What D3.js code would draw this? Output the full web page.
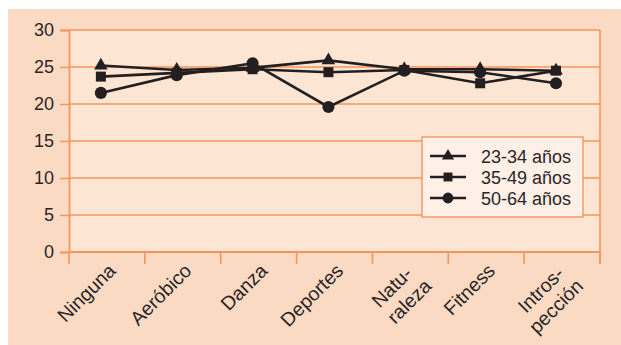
<!DOCTYPE html>
<html>
<head>
<meta charset="utf-8">
<script src="https://cdn.jsdelivr.net/npm/d3@7"></script>
<style>
  html, body { margin: 0; padding: 0; background: #ffffff; }
  svg { display: block; }
  text { font-family: "Liberation Sans", Arial, sans-serif; fill: #2b2526; }
</style>
</head>
<body>
<svg id="chart" width="621" height="345"></svg>
<script>
// Activity categories (multi-line labels split on "\n")
const categories = ["Ninguna", "Aeróbico", "Danza", "Deportes", "Natu-\nraleza", "Fitness", "Intros-\npección"];
const yTicks = [0, 5, 10, 15, 20, 25, 30];
const seriesNames = ["23-34 años", "35-49 años", "50-64 años"];
const values2334 = [25.2, 24.6, 24.9, 25.9, 24.7, 24.7, 24.5];
const values3549 = [23.7, 24.2, 24.7, 24.3, 24.6, 22.8, 24.5];
const values5064 = [21.5, 23.9, 25.5, 19.6, 24.5, 24.3, 22.8];

const series = [
  { name: seriesNames[0], values: values2334, symbol: d3.symbolTriangle, size: 80 },
  { name: seriesNames[1], values: values3549, symbol: d3.symbolSquare, size: 100 },
  { name: seriesNames[2], values: values5064, symbol: d3.symbolCircle, size: 115 }
];

const svg = d3.select("#chart");
const W = 621, H = 345;
const plot = { left: 69, right: 600, top: 30, bottom: 252 };
const grid = "#f5955d";
const ink = "#231f20";
const fontSize = 18;
const catFontSize = 19.5;

// outer panel
svg.append("rect").attr("x", 8).attr("y", 9).attr("width", W - 8).attr("height", H - 9)
  .attr("fill", "#fbdac4");
// plot area
svg.append("rect").attr("x", plot.left).attr("y", plot.top)
  .attr("width", plot.right - plot.left).attr("height", plot.bottom - plot.top)
  .attr("fill", "#fde5d4");

const x = d3.scaleBand().domain(categories).range([plot.left, plot.right]).padding(0);
const xPos = c => x(c) + x.bandwidth() * 0.42;
const y = d3.scaleLinear().domain([0, 30]).range([plot.bottom, plot.top]);

// horizontal gridlines
svg.append("g").selectAll("line").data(yTicks).join("line")
  .attr("x1", plot.left).attr("x2", plot.right)
  .attr("y1", d => y(d)).attr("y2", d => y(d))
  .attr("stroke", grid).attr("stroke-width", d => d === 0 ? 2 : 1.4);

// right border
svg.append("line").attr("x1", plot.right).attr("x2", plot.right)
  .attr("y1", plot.top).attr("y2", plot.bottom + 12)
  .attr("stroke", grid).attr("stroke-width", 1.6);

// y axis
const yAxis = svg.append("g").attr("transform", `translate(${plot.left},0)`)
  .call(d3.axisLeft(y).tickValues(yTicks).tickSize(9).tickPadding(6));
yAxis.select(".domain").attr("stroke", grid).attr("stroke-width", 1.8);
yAxis.selectAll(".tick line").attr("stroke", grid).attr("stroke-width", 1.4);
yAxis.selectAll(".tick text").attr("font-size", fontSize).attr("fill", "#2b2526")
  .attr("font-family", "'Liberation Sans', Arial, sans-serif");

// x axis with ticks at band boundaries
const xAxis = svg.append("g").attr("transform", `translate(0,${plot.bottom})`);
const bounds = categories.map(c => x(c)).concat([plot.right]);
xAxis.selectAll("line").data(bounds).join("line")
  .attr("x1", d => d).attr("x2", d => d).attr("y1", 0).attr("y2", 12)
  .attr("stroke", grid).attr("stroke-width", 1.6);

const labels = xAxis.selectAll("text.cat").data(categories).join("text")
  .attr("class", "cat")
  .attr("text-anchor", "end")
  .attr("font-size", catFontSize)
  .attr("transform", d => {
    const multi = d.includes("\n");
    const cx = x(d) + x.bandwidth() / 2 + (multi ? 3 : 10);
    return `translate(${cx},${multi ? 23 : 20}) rotate(-45)`;
  });
labels.each(function(d) {
  const parts = d.split("\n");
  const t = d3.select(this);
  parts.forEach((p, i) => {
    t.append("tspan").attr("x", i === 0 ? 0 : 5).attr("dy", i === 0 ? 0 : "1.15em").text(p);
  });
});

// series lines and markers
const line = d3.line().x((d, i) => xPos(categories[i])).y(d => y(d));
series.forEach(s => {
  svg.append("path").datum(s.values).attr("d", line)
    .attr("fill", "none").attr("stroke", ink).attr("stroke-width", 2.6)
    .attr("stroke-linejoin", "miter");
});
series.forEach(s => {
  svg.append("g").selectAll("path").data(s.values).join("path")
    .attr("d", d3.symbol().type(s.symbol).size(s.size))
    .attr("transform", (d, i) => `translate(${xPos(categories[i])},${y(d)})`)
    .attr("fill", ink);
});

// legend
const lg = svg.append("g").attr("transform", "translate(422,137)");
lg.append("rect").attr("width", 161).attr("height", 80)
  .attr("fill", "#fef0e7").attr("stroke", grid).attr("stroke-width", 1.4);
series.forEach((s, i) => {
  const ry = 19 + i * 21;
  lg.append("line").attr("x1", 8).attr("x2", 44).attr("y1", ry).attr("y2", ry)
    .attr("stroke", ink).attr("stroke-width", 2.6);
  lg.append("path").attr("d", d3.symbol().type(s.symbol).size(s.size * 0.8))
    .attr("transform", `translate(26,${ry})`).attr("fill", ink);
  lg.append("text").attr("x", 59).attr("y", ry + 6.5).attr("font-size", fontSize).text(s.name);
});
</script>
</body>
</html>
